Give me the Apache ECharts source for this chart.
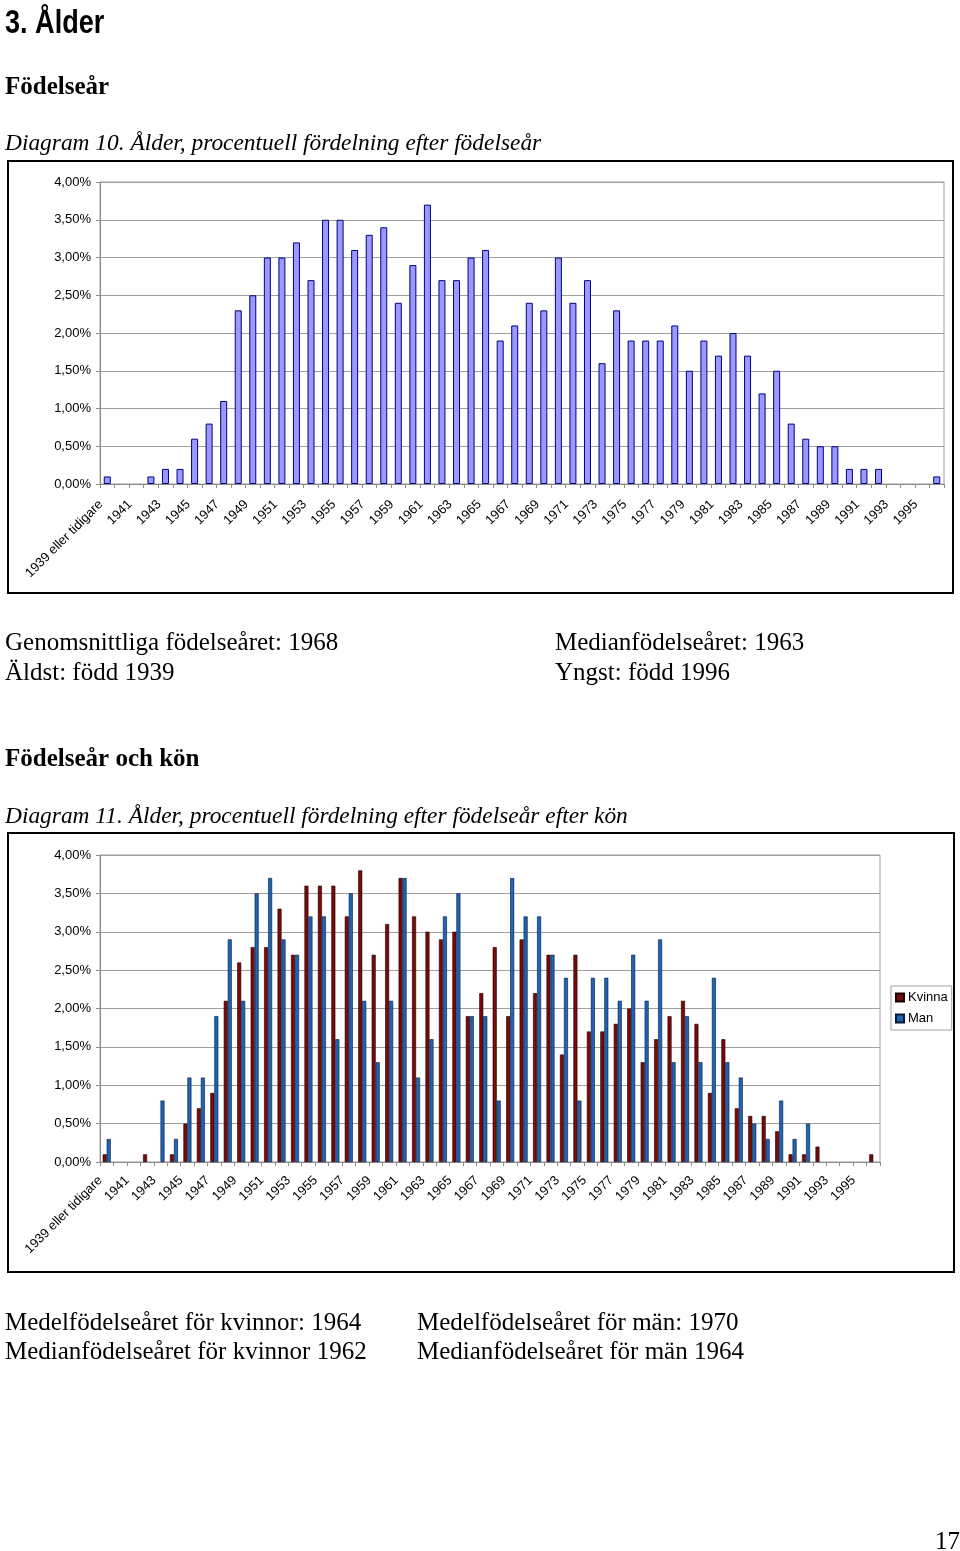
<!DOCTYPE html>
<html>
<head>
<meta charset="utf-8">
<script src="https://cdn.jsdelivr.net/npm/echarts@6/dist/echarts.min.js"></script>
<style>
html,body{margin:0;padding:0;background:#fff;}
#page{width:960px;height:1551px;}
</style>
</head>
<body>
<div id="page"></div>
<script>
// ---------- data ----------
const categories = ['1939 eller tidigare','1940','1941','1942','1943','1944','1945','1946','1947','1948','1949',
  '1950','1951','1952','1953','1954','1955','1956','1957','1958','1959',
  '1960','1961','1962','1963','1964','1965','1966','1967','1968','1969',
  '1970','1971','1972','1973','1974','1975','1976','1977','1978','1979',
  '1980','1981','1982','1983','1984','1985','1986','1987','1988','1989',
  '1990','1991','1992','1993','1994','1995','1996'];

// Diagram 10: percent of all, by birth year
const totalPct = [0.1,0,0,0.1,0.2,0.2,0.6,0.8,1.1,2.3,2.5,
  3.0,3.0,3.2,2.7,3.5,3.5,3.1,3.3,3.4,2.4,
  2.9,3.7,2.7,2.7,3.0,3.1,1.9,2.1,2.4,2.3,
  3.0,2.4,2.7,1.6,2.3,1.9,1.9,1.9,2.1,1.5,
  1.9,1.7,2.0,1.7,1.2,1.5,0.8,0.6,0.5,0.5,
  0.2,0.2,0.2,0,0,0,0.1];

// Diagram 11: by sex
const kvinnaPct = [0.1,0,0,0.1,0,0.1,0.5,0.7,0.9,2.1,2.6,
  2.8,2.8,3.3,2.7,3.6,3.6,3.6,3.2,3.8,2.7,
  3.1,3.7,3.2,3.0,2.9,3.0,1.9,2.2,2.8,1.9,
  2.9,2.2,2.7,1.4,2.7,1.7,1.7,1.8,2.0,1.3,
  1.6,1.9,2.1,1.8,0.9,1.6,0.7,0.6,0.6,0.4,
  0.1,0.1,0.2,0,0,0,0.1];
const manPct = [0.3,0,0,0,0.8,0.3,1.1,1.1,1.9,2.9,2.1,
  3.5,3.7,2.9,2.7,3.2,3.2,1.6,3.5,2.1,1.3,
  2.1,3.7,1.1,1.6,3.2,3.5,1.9,1.9,0.8,3.7,
  3.2,3.2,2.7,2.4,0.8,2.4,2.4,2.1,2.7,2.1,
  2.9,1.3,1.9,1.3,2.4,1.3,1.1,0.5,0.3,0.8,
  0.3,0.5,0,0,0,0,0];
const seriesNames = ['Kvinna','Man'];

const yTicks = {min:0, max:4, interval:0.5};

// ---------- chart ----------
const chart = echarts.init(document.getElementById('page'), null, {renderer:'canvas', width:960, height:1551});
const nz = a => a.map(v => v === 0 ? null : v);
const pctFmt = v => v.toFixed(2).replace('.', ',') + '%';
const SERIF = '"Liberation Serif","Times New Roman",serif';
const SANS = '"Liberation Sans",Arial,sans-serif';

function txt(x, y, s, font, extra){
  return Object.assign({type:'text', x:x, y:y, style:{text:s, font:font, fill:'#000', verticalAlign:'middle', align:'left'}}, extra||{});
}

const yAxisCommon = {
  type:'value', min:yTicks.min, max:yTicks.max, interval:yTicks.interval,
  axisLine:{show:true, lineStyle:{color:'#8c8c8c', width:1}},
  axisTick:{show:true, length:4, lineStyle:{color:'#8c8c8c'}},
  splitLine:{show:true, lineStyle:{color:'#a0a0a0', width:1}},
  axisLabel:{formatter:pctFmt, fontSize:13, fontFamily:SANS, color:'#000', margin:9}
};
function xAxisFor(gi, margin){
  return {
    gridIndex:gi, type:'category', data:categories, boundaryGap:true,
    axisLine:{show:true, lineStyle:{color:'#8c8c8c', width:1}},
    axisTick:{show:true, length:4, interval:0, lineStyle:{color:'#8c8c8c'}},
    axisLabel:{rotate:45, interval:1, fontSize:13, fontFamily:SANS, color:'#000', margin:margin, padding:[0,9,0,0]}
  };
}

chart.setOption({
  animation:false,
  backgroundColor:'#fff',
  grid:[
    {left:100, top:182, width:844, height:302, show:true, borderColor:'#a0a0a0', borderWidth:1, backgroundColor:'transparent'},
    {left:100, top:855, width:780, height:307, show:true, borderColor:'#a0a0a0', borderWidth:1, backgroundColor:'transparent'}
  ],
  xAxis:[ xAxisFor(0, 12), xAxisFor(1, 10) ],
  yAxis:[
    Object.assign({gridIndex:0}, yAxisCommon),
    Object.assign({gridIndex:1}, yAxisCommon)
  ],
  legend:{
    data:seriesNames, orient:'vertical', left:891, top:986,
    borderColor:'#a0a0a0', borderWidth:1, padding:[5,4,5,4],
    itemWidth:8, itemHeight:8, itemGap:8, icon:'rect',
    textStyle:{fontSize:13, fontFamily:SANS, color:'#000', padding:[0,0,0,-1]}
  },
  series:[
    {type:'bar', name:'Totalt', xAxisIndex:0, yAxisIndex:0, data:nz(totalPct), barWidth:7,
     itemStyle:{color:'#9999ff', borderColor:'#000080', borderWidth:1}},
    {type:'bar', name:seriesNames[0], xAxisIndex:1, yAxisIndex:1, data:nz(kvinnaPct), barWidth:4, barGap:'0%',
     itemStyle:{color:'#7a0a0a', borderColor:'#1a0000', borderWidth:0.6}},
    {type:'bar', name:seriesNames[1], xAxisIndex:1, yAxisIndex:1, data:nz(manPct), barWidth:4, barGap:'0%',
     itemStyle:{color:'#1f64b4', borderColor:'#001a3a', borderWidth:0.6}}
  ],
  graphic:[
    txt(5, 24, '3. Ålder', 'bold 33px ' + SANS, {scaleX:0.82}),
    txt(5, 88, 'Födelseår', 'bold 25px ' + SERIF),
    txt(5, 144, 'Diagram 10. Ålder, procentuell fördelning efter födelseår', 'italic 23.4px ' + SERIF),
    {type:'rect', shape:{x:8, y:161, width:945, height:432}, style:{fill:'none', stroke:'#000', lineWidth:2}},
    txt(5, 643, 'Genomsnittliga födelseåret: 1968', '25px ' + SERIF),
    txt(555, 643, 'Medianfödelseåret: 1963', '25px ' + SERIF),
    txt(5, 673, 'Äldst: född 1939', '25px ' + SERIF),
    txt(555, 673, 'Yngst: född 1996', '25px ' + SERIF),
    txt(5, 760, 'Födelseår och kön', 'bold 25px ' + SERIF),
    txt(5, 817, 'Diagram 11. Ålder, procentuell fördelning efter födelseår efter kön', 'italic 23.4px ' + SERIF),
    {type:'rect', shape:{x:8, y:833, width:946, height:439}, style:{fill:'none', stroke:'#000', lineWidth:2}},
    txt(5, 1323, 'Medelfödelseåret för kvinnor: 1964', '25px ' + SERIF),
    txt(417, 1323, 'Medelfödelseåret för män: 1970', '25px ' + SERIF),
    txt(5, 1352, 'Medianfödelseåret för kvinnor 1962', '25px ' + SERIF),
    txt(417, 1352, 'Medianfödelseåret för män 1964', '25px ' + SERIF),
    txt(935, 1542, '17', '25px ' + SERIF)
  ]
});
</script>
</body>
</html>
